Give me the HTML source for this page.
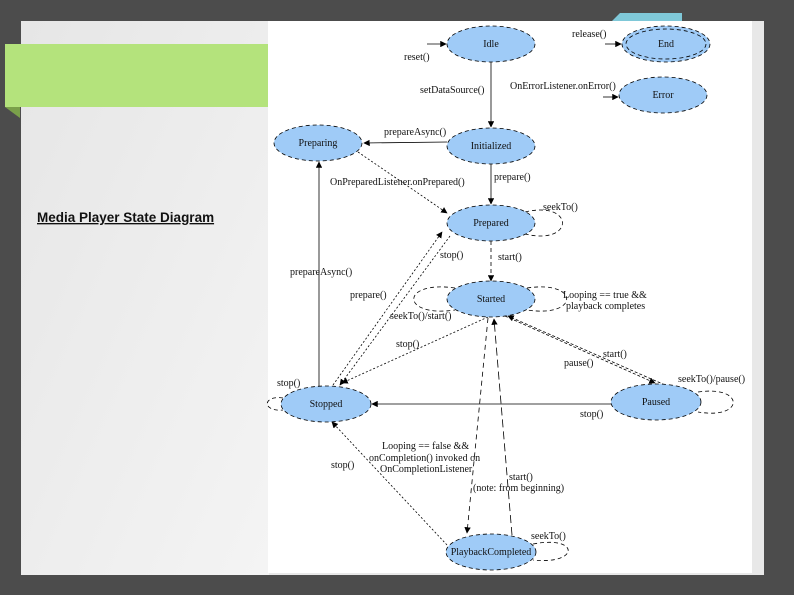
<!DOCTYPE html>
<html><head><meta charset="utf-8"><style>
html,body{margin:0;padding:0;width:794px;height:595px;overflow:hidden;background:#4e4e4e}
svg{position:absolute;left:0;top:0}
text{font-family:"Liberation Serif",serif;font-size:10px;fill:#111}
</style></head><body>
<svg width="794" height="595" viewBox="0 0 794 595">
<defs>
<linearGradient id="lg" x1="0" y1="0" x2="1" y2="1"><stop offset="0" stop-color="#e6e6e6"/><stop offset="1" stop-color="#f4f4f4"/></linearGradient>
<marker id="a" viewBox="0 0 10 10" refX="9" refY="5" markerWidth="8" markerHeight="8" orient="auto"><path d="M0,0L10,5L0,10z" fill="#000"/></marker>
</defs>
<rect x="0" y="0" width="794" height="595" fill="#4c4c4c"/>
<rect x="21" y="21" width="743" height="554" fill="#e8e8e8"/>
<rect x="21" y="21" width="248" height="554" fill="url(#lg)"/>
<rect x="268" y="21" width="484" height="552" fill="#fff"/>
<polygon points="612,21 620,13 682,13 682,21" fill="#7fc8d8"/>
<polygon points="5,107 20,118 20,107" fill="#7aa04a"/>
<rect x="5" y="44" width="263" height="63" fill="#b4e37c"/>
<text x="37" y="222" style="font-family:'Liberation Sans',sans-serif;font-size:13.5px;font-weight:bold;text-decoration:underline">Media Player State Diagram</text>

<g stroke="#000" stroke-width="0.8" fill="none">
<line x1="427" y1="44" x2="446" y2="44" marker-end="url(#a)"/>
<line x1="605" y1="44" x2="621" y2="44" marker-end="url(#a)"/>
<line x1="603" y1="97" x2="618" y2="97" marker-end="url(#a)"/>
<line x1="491" y1="62" x2="491" y2="127" marker-end="url(#a)"/>
<line x1="447" y1="142" x2="364" y2="143" marker-end="url(#a)"/>
<line x1="491" y1="164" x2="491" y2="204" marker-end="url(#a)"/>
<line x1="358" y1="152" x2="447" y2="213" stroke-dasharray="2,2" marker-end="url(#a)"/>
<path d="M525,212 C575,200 575,246 525,234" stroke-dasharray="4,3"/>
<line x1="491" y1="241" x2="491" y2="281" stroke-dasharray="4,3" marker-end="url(#a)"/>
<line x1="319" y1="388" x2="319" y2="162" marker-end="url(#a)"/>
<line x1="333" y1="385" x2="442" y2="232" stroke-dasharray="2,2" marker-end="url(#a)"/>
<line x1="450" y1="236" x2="340" y2="385" stroke-dasharray="2,2" marker-end="url(#a)"/>
<path d="M455,288 C400,280 400,318 455,310" stroke-dasharray="4,3"/>
<path d="M527,288 C580,280 580,318 527,310" stroke-dasharray="4,3"/>
<line x1="488" y1="317" x2="342" y2="383" stroke-dasharray="2,2" marker-end="url(#a)"/>
<line x1="505" y1="316" x2="655" y2="383" stroke-dasharray="3,2" marker-end="url(#a)"/>
<line x1="665" y1="385" x2="508" y2="316" stroke-dasharray="3,2" marker-end="url(#a)"/>
<path d="M698,392 C745,385 745,420 698,412" stroke-dasharray="4,3"/>
<line x1="611" y1="404" x2="372" y2="404" marker-end="url(#a)"/>
<path d="M283,398 C262,395 262,412 283,410" stroke-dasharray="4,3"/>
<line x1="488" y1="318" x2="467" y2="533" stroke-dasharray="5,4" marker-end="url(#a)"/>
<line x1="512" y1="535" x2="494" y2="319" stroke-dasharray="8,4" marker-end="url(#a)"/>
<line x1="447" y1="545" x2="332" y2="422" stroke-dasharray="2,2" marker-end="url(#a)"/>
<path d="M533,544 C580,535 580,565 533,560" stroke-dasharray="4,3"/>
</g>

<g fill="#9fcbf7" stroke="#000" stroke-width="0.8" stroke-dasharray="4,3">
<ellipse cx="491" cy="44" rx="44" ry="18"/>
<ellipse cx="666" cy="44" rx="44" ry="18"/>
<ellipse cx="666" cy="44" rx="40" ry="15" fill="none"/>
<ellipse cx="663" cy="95" rx="44" ry="18"/>
<ellipse cx="318" cy="143" rx="44" ry="18"/>
<ellipse cx="491" cy="146" rx="44" ry="18"/>
<ellipse cx="491" cy="223" rx="44" ry="18"/>
<ellipse cx="491" cy="299" rx="44" ry="18"/>
<ellipse cx="326" cy="404" rx="45" ry="18"/>
<ellipse cx="656" cy="402" rx="45" ry="18"/>
<ellipse cx="491" cy="552" rx="45" ry="18"/>
</g>
<g text-anchor="middle">
<text x="491" y="47">Idle</text><text x="666" y="47">End</text><text x="663" y="98">Error</text>
<text x="318" y="146">Preparing</text><text x="491" y="149">Initialized</text><text x="491" y="226">Prepared</text>
<text x="491" y="302">Started</text><text x="326" y="407">Stopped</text><text x="656" y="405">Paused</text>
<text x="491" y="555">PlaybackCompleted</text>
</g>
<text x="404" y="60">reset()</text>
<text x="572" y="37">release()</text>
<text x="420" y="93">setDataSource()</text>
<text x="510" y="89">OnErrorListener.onError()</text>
<text x="384" y="135">prepareAsync()</text>
<text x="330" y="185">OnPreparedListener.onPrepared()</text>
<text x="494" y="180">prepare()</text>
<text x="543" y="210">seekTo()</text>
<text x="440" y="258">stop()</text>
<text x="498" y="260">start()</text>
<text x="290" y="275">prepareAsync()</text>
<text x="350" y="298">prepare()</text>
<text x="563" y="298">Looping == true &amp;&amp;</text>
<text x="566" y="309">playback completes</text>
<text x="390" y="319">seekTo()/start()</text>
<text x="396" y="347">stop()</text>
<text x="603" y="357">start()</text>
<text x="564" y="366">pause()</text>
<text x="678" y="382">seekTo()/pause()</text>
<text x="277" y="386">stop()</text>
<text x="580" y="417">stop()</text>
<text x="382" y="449">Looping == false &amp;&amp;</text>
<text x="369" y="461">onCompletion() invoked on</text>
<text x="380" y="472">OnCompletionListener</text>
<text x="331" y="468">stop()</text>
<text x="509" y="480">start()</text>
<text x="473" y="491">(note: from beginning)</text>
<text x="531" y="539">seekTo()</text>
</svg>
</body></html>
